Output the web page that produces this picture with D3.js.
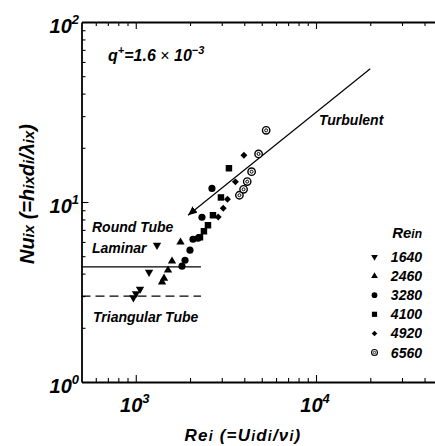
<!DOCTYPE html>
<html>
<head>
<meta charset="utf-8">
<script src="https://cdn.jsdelivr.net/npm/d3@7"></script>
<style>
  body { margin: 0; background: #fff; }
  text { font-family: "Liberation Sans", Arial, sans-serif; font-weight: bold; font-style: italic; fill: #000; }
</style>
</head>
<body>
<div id="chart"></div>
<script>
// [Re_i, Nu_ix]
const re1640 = [[970, 2.94], [1003, 3.1], [1056, 3.28], [1185, 4.07], [1312, 5.75]]
const re2460 = [[1399, 3.59], [1435, 3.77], [1510, 4.18], [1589, 4.69], [1771, 5.98]]
const re3280 = [[1805, 4.40], [1876, 4.75], [1999, 5.40], [2077, 6.21], [2214, 6.29], [2330, 8.23], [2647, 11.9]]
const re4100 = [[2271, 6.37], [2389, 6.88], [2515, 7.43], [2681, 8.44], [2969, 10.6], [3288, 15.4]]
const re4920 = [[2868, 8.26], [3057, 9.23], [3226, 10.35], [3572, 12.94], [3981, 18.2]]
const re6560 = [[3758, 10.9], [3964, 11.76], [4152, 12.98], [4392, 14.74], [4801, 18.5], [5290, 25.0]]

const legendLabels = ["1640", "2460", "3280", "4100", "4920", "6560"]

// reference lines
const turbulentLine = [[1950, 8.45], [20000, 55]]
const roundLaminar = [[500, 4.36], [2300, 4.36]]
const triLaminar = [[500, 3.0], [2300, 3.0]]

// ticks
const xMajor = [1000, 10000]
const xMinor = [600, 700, 800, 900, 2000, 3000, 4000, 5000, 6000, 7000, 8000, 9000, 20000, 30000, 40000]
const yMajor = [1, 10, 100]
const yMinor = [2, 3, 4, 5, 6, 7, 8, 9, 20, 30, 40, 50, 60, 70, 80, 90]
const xTickLabels = [[1000, "3"], [10000, "4"]]
const yTickLabels = [[100, "2"], [10, "1"], [1, "0"]]

const W = 435, H = 446
const svg = d3.select("#chart").append("svg")
  .attr("width", W)
  .attr("height", H)

const x = d3.scaleLog().domain([500, 50000]).range([81.5, 442])
const y = d3.scaleLog().domain([1, 100]).range([382, 22])

// frame axes, ticks pointing inward
const drawAxis = (axis, tx, ty, majors, longSign, dim) => {
  const g = svg.append("g")
    .attr("transform", `translate(${tx},${ty})`)
    .call(axis.tickSizeInner(-4).tickSizeOuter(0).tickFormat(""))
  g.select(".domain").attr("stroke", "#000").attr("stroke-width", 1.8)
  g.selectAll(".tick line").attr("stroke", "#000").attr("stroke-width", 1.1)
    .filter(d => majors.includes(d)).attr(dim, -7 * longSign)
  return g
}

drawAxis(d3.axisBottom(x).tickValues(xMinor.concat(xMajor)), 0, 382, xMajor, 1, "y2")
drawAxis(d3.axisTop(x).tickValues(xMinor.concat(xMajor)), 0, 22, xMajor, -1, "y2")
drawAxis(d3.axisLeft(y).tickValues(yMinor.concat(yMajor.slice(1, 2))), 81.5, 0, yMajor, -1, "x2")
drawAxis(d3.axisRight(y).tickValues(yMinor.concat(yMajor.slice(1, 2))), 442, 0, yMajor, 1, "x2")

// tick labels as 10^n
xTickLabels.forEach(([v, p]) => {
  const t = svg.append("text")
    .attr("x", x(v) - 1)
    .attr("y", 412)
    .attr("text-anchor", "middle")
    .style("font-size", "20px")
  t.append("tspan").text("10")
  t.append("tspan").attr("dy", -9).style("font-size", "13px").text(p)
})

yTickLabels.forEach(([v, p]) => {
  const t = svg.append("text")
    .attr("x", 79)
    .attr("y", y(v) + 11)
    .attr("text-anchor", "end")
    .style("font-size", "20px")
  t.append("tspan").text("10")
  t.append("tspan").attr("dy", -9).style("font-size", "13px").text(p)
})

// axis titles
const sub = (t, s, size) => t.append("tspan").style("font-size", size + "px").text(s)

const xTitle = svg.append("text")
  .attr("x", 243)
  .attr("y", 441)
  .attr("text-anchor", "middle")
  .style("font-size", "17px")
  .style("letter-spacing", "1.2px")
xTitle.append("tspan").text("Re")
sub(xTitle, "i", 14)
xTitle.append("tspan").text(" (=U")
sub(xTitle, "i", 14)
xTitle.append("tspan").text("d")
sub(xTitle, "i", 14)
xTitle.append("tspan").text("/\u03bd")
sub(xTitle, "i", 14)
xTitle.append("tspan").text(")")

const yTitle = svg.append("text")
  .attr("transform", "translate(34,194) rotate(-90)")
  .attr("text-anchor", "middle")
  .style("font-size", "20px")
yTitle.append("tspan").text("Nu")
sub(yTitle, "ix", 15)
yTitle.append("tspan").text(" (=h")
sub(yTitle, "ix", 15)
yTitle.append("tspan").text("d")
sub(yTitle, "i", 15)
yTitle.append("tspan").text("/\u03bb")
sub(yTitle, "ix", 15)
yTitle.append("tspan").text(")")

// reference lines
const line = d3.line().x(d => x(d[0])).y(d => y(d[1]))

// arrow head at the low end of the turbulent line, tip pointing down-left
svg.append("defs").append("marker")
  .attr("id", "arrow")
  .attr("viewBox", "0 0 10 10")
  .attr("refX", 0)
  .attr("refY", 5)
  .attr("markerWidth", 9)
  .attr("markerHeight", 9)
  .attr("markerUnits", "userSpaceOnUse")
  .attr("orient", "auto")
  .append("path")
  .attr("d", "M0,5L10,0.5L10,9.5Z")
  .attr("fill", "#000")

svg.append("path")
  .attr("d", line(turbulentLine))
  .attr("fill", "none")
  .attr("stroke", "#000")
  .attr("stroke-width", 1.2)
  .attr("marker-start", "url(#arrow)")

svg.append("path")
  .attr("d", line(roundLaminar))
  .attr("fill", "none")
  .attr("stroke", "#000")
  .attr("stroke-width", 1.1)

svg.append("path")
  .attr("d", line(triLaminar))
  .attr("fill", "none")
  .attr("stroke", "#000")
  .attr("stroke-width", 1.1)
  .attr("stroke-dasharray", "9,5")

// markers
const drawMarker = (g, kind, s) => {
  if (kind === "ring") {
    g.append("circle").attr("r", 3.7 * s).attr("fill", "#fff").attr("stroke", "#000").attr("stroke-width", 1.4 * s)
    g.append("circle").attr("r", 1.5 * s).attr("fill", "#fff").attr("stroke", "#000").attr("stroke-width", 1 * s)
    return
  }
  const types = {
    down: [d3.symbolTriangle, 30, 180],
    up: [d3.symbolTriangle, 30, 0],
    circle: [d3.symbolCircle, 40, 0],
    square: [d3.symbolSquare, 42, 0],
    diamond: [d3.symbolSquare, 24, 45]
  }
  const [type, size, rot] = types[kind]
  g.append("path")
    .attr("d", d3.symbol().type(type).size(size * s * s)())
    .attr("transform", `rotate(${rot})`)
    .attr("fill", "#000")
}

const series = [
  { data: re1640, kind: "down" },
  { data: re2460, kind: "up" },
  { data: re3280, kind: "circle" },
  { data: re4100, kind: "square" },
  { data: re4920, kind: "diamond" },
  { data: re6560, kind: "ring" }
]

series.forEach(sr => {
  sr.data.forEach(d => {
    const g = svg.append("g").attr("transform", `translate(${x(d[0])},${y(d[1])})`)
    drawMarker(g, sr.kind, 1)
  })
})

// annotations
const q = svg.append("text")
  .attr("x", 108)
  .attr("y", 61)
  .style("font-size", "16px")
q.append("tspan").text("q")
q.append("tspan").attr("dy", -7).style("font-size", "11px").text("+")
q.append("tspan").attr("dy", 7).text("=1.6 ")
q.append("tspan").style("font-weight", "normal").style("font-style", "normal").text("\u00d7")
q.append("tspan").text(" 10")
q.append("tspan").attr("dy", -7).style("font-size", "11px").text("\u22123")

const label = (tx, ty, s) => svg.append("text")
  .attr("x", tx).attr("y", ty)
  .style("font-size", "14px")
  .text(s)

label(319, 125, "Turbulent")
label(92, 232, "Round Tube")
label(92, 253, "Laminar")
label(93, 322, "Triangular Tube")

// legend
const lg = svg.append("g")
const head = lg.append("text")
  .attr("x", 422).attr("y", 238)
  .attr("text-anchor", "end")
  .style("font-size", "15px")
head.append("tspan").text("Re")
head.append("tspan").style("font-size", "12px").text("in")

series.forEach((sr, i) => {
  const by = 262 + i * 19.1
  const g = lg.append("g").attr("transform", `translate(374.5,${by - 5})`)
  drawMarker(g, sr.kind, 0.8)
  lg.append("text")
    .attr("x", 422).attr("y", by)
    .attr("text-anchor", "end")
    .style("font-size", "14px")
    .text(legendLabels[i])
})
</script>
</body>
</html>
